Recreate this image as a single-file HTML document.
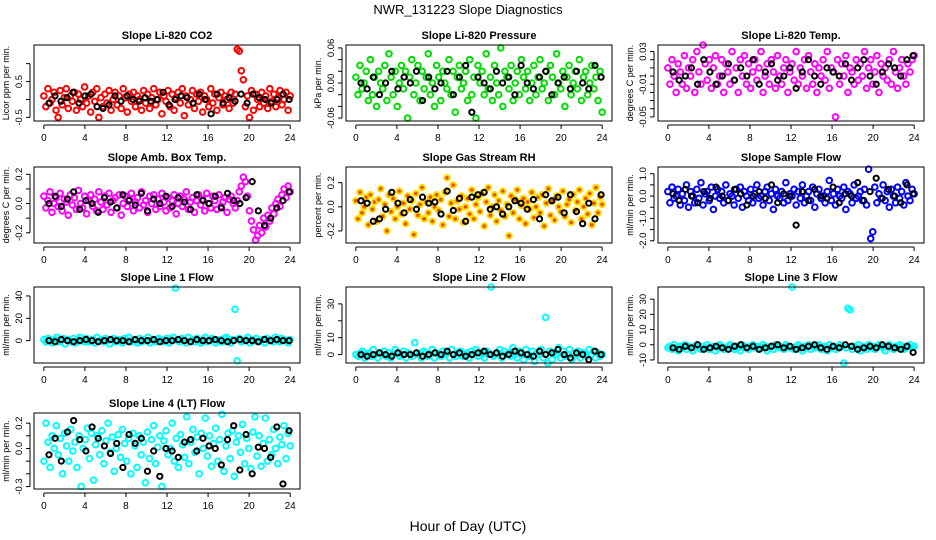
<!DOCTYPE html>
<html><head><meta charset="utf-8"><style>
body{margin:0;background:#fff}
svg{display:block;font-family:"Liberation Sans",sans-serif}
</style></head><body>
<svg id="chart" width="936" height="540" xmlns="http://www.w3.org/2000/svg">
<rect width="936" height="540" fill="#fff"/>
<text x="468" y="14" font-size="13" text-anchor="middle">NWR_131223  Slope Diagnostics</text>
<text x="468" y="531" font-size="14" text-anchor="middle">Hour of Day (UTC)</text>
</svg>
<script>
const xTicks = [0,4,8,12,16,20,24];
const titles = ["Slope Li-820 CO2","Slope Li-820 Pressure","Slope Li-820 Temp.","Slope Amb. Box Temp.","Slope Gas Stream RH","Slope Sample Flow","Slope Line 1 Flow","Slope Line 2 Flow","Slope Line 3 Flow","Slope Line 4 (LT) Flow"];
const yLabels = ["Licor ppm per min.","kPa per min.","degrees C per min.","degrees C per min.","percent per min.","ml/min per min.","ml/min per min.","ml/min per min.","ml/min per min.","ml/min per min."];
const yRanges = [[-0.6,1.52],[-0.065,0.065],[-0.055,0.038],[-0.27,0.25],[-0.3,0.33],[-2.1,1.3],[-20,48],[-5,40],[-12,38],[-0.32,0.28]];
const yTicks = [[-0.5,0,0.5,1.0],[-0.06,-0.04,-0.02,0,0.02,0.04,0.06],[-0.05,-0.04,-0.03,-0.02,-0.01,0,0.01,0.02,0.03],[-0.2,-0.1,0,0.1,0.2],[-0.2,0,0.2],[-2,-1.5,-1,-0.5,0,0.5,1],[0,20,40],[0,10,20,30],[-10,0,10,20,30],[-0.3,-0.2,-0.1,0,0.1,0.2]];
const yTickLabels = [["-0.5","","0.5",""],["-0.06","","","0.00","","","0.06"],["-0.05","","","","-0.01","","","","0.03"],["-0.2","","0.0","","0.2"],["-0.2","0.0","0.2"],["-2.0","","-1.0","","0.0","","1.0"],["0","20","40"],["0","10","","30"],["-10","0","10","20","30"]];
yTickLabels.push(["-0.3","","","0.0","","0.2"]);
const colors = ["#ff0000","#00dd00","#ff00ff","#ff00ff","#ffdd00","#0000ff","#00ffff","#00ffff","#00ffff","#00ffff"];

const s0 = [0.1,-0.2,0.3,-0.1,0.0,0.2,-0.3,-0.5,0.25,-0.15,0.05,0.3,-0.25,0.1,-0.05,0.2,-0.3,0.15,0.0,-0.2,0.35,-0.1,0.1,-0.35,0.2,-0.05,0.3,-0.5,0.05,-0.2,0.15,-0.1,0.25,-0.3,0.0,0.2,-0.15,0.1,-0.25,0.3,0.05,-0.35,0.15,-0.05,0.2,-0.2,0.1,0.0,-0.3,0.25,-0.1,0.15,-0.25,0.05,0.3,-0.15,0.0,0.2,-0.4,0.1,-0.05,0.25,-0.2,0.15,-0.3,0.05,0.2,-0.1,0.3,-0.45,0.1,-0.15,0.0,0.25,-0.25,0.15,-0.05,0.2,-0.35,0.1,0.0,-0.2,0.3,-0.1,0.15,-0.3,0.05,0.2,-0.15,0.1,0.0,-0.25,0.2,-0.1,0.15,1.4,1.35,0.8,0.55,-0.2,0.1,-0.5,0.25,-0.3,0.15,0.0,-0.2,0.2,-0.1,0.1,-0.25,0.3,-0.05,0.15,-0.2,0.05,0.25,-0.15,0.0,0.2,-0.3,0.1];
const s1 = [0.01,-0.02,0.03,-0.01,0.0,0.02,-0.03,0.04,-0.02,0.01,-0.04,0.02,0.0,-0.01,0.03,-0.03,0.05,0.01,-0.02,0.02,-0.04,0.0,0.03,-0.01,0.02,-0.06,0.01,0.04,-0.02,0.0,0.03,-0.03,0.02,-0.01,0.01,0.05,-0.02,0.0,-0.04,0.03,0.01,-0.03,0.02,0.0,-0.01,0.04,-0.02,0.02,-0.05,0.01,0.03,-0.01,0.0,0.02,-0.03,0.04,-0.02,0.01,-0.06,0.03,0.0,0.02,-0.02,0.05,-0.01,0.01,-0.03,0.03,0.0,-0.02,0.06,-0.04,0.02,0.01,-0.01,0.03,-0.03,0.0,0.02,-0.02,0.04,0.01,-0.01,0.02,-0.03,0.0,0.03,-0.02,0.01,0.04,-0.01,0.0,0.02,-0.03,0.03,0.01,-0.02,0.05,0.0,-0.01,0.02,-0.04,0.01,0.03,-0.02,0.0,0.02,-0.01,0.04,-0.03,0.01,0.02,-0.02,0.0,0.03,-0.01,0.01,-0.03,0.02,-0.05];
const s2 = [0.01,-0.01,0.02,0.0,-0.02,0.015,0.005,-0.01,0.025,-0.015,0.01,0.0,0.02,-0.02,0.03,0.005,-0.01,0.038,0.015,-0.005,0.02,-0.015,0.01,0.025,-0.01,0.0,0.02,-0.02,0.015,0.005,-0.01,0.03,-0.005,0.01,-0.02,0.02,0.0,0.025,-0.01,0.015,-0.015,0.005,0.02,-0.005,0.01,0.03,-0.02,0.0,0.015,-0.01,0.02,0.005,-0.015,0.025,0.0,-0.01,0.01,0.02,-0.02,0.005,0.015,-0.005,0.03,-0.01,0.01,0.0,0.02,-0.015,0.025,0.005,-0.01,0.015,-0.02,0.01,0.0,0.02,-0.005,0.03,-0.015,0.01,0.005,-0.05,0.02,-0.01,0.015,0.0,0.025,-0.02,0.01,0.005,-0.01,0.02,-0.005,0.015,0.0,0.03,-0.015,0.01,0.02,-0.01,0.005,0.025,-0.02,0.015,0.0,0.01,-0.005,0.02,-0.01,0.03,0.005,-0.015,0.01,0.02,0.0,-0.01,0.015,0.005,0.02,0.025];
const s3 = [0.05,-0.03,0.02,0.08,-0.06,0.0,0.04,-0.02,0.07,-0.05,0.03,0.01,-0.08,0.06,-0.01,0.04,-0.04,0.09,0.0,-0.03,0.05,-0.07,0.02,0.06,-0.02,0.03,-0.05,0.08,0.01,-0.04,0.05,-0.01,0.07,-0.06,0.02,0.04,-0.03,0.06,-0.08,0.0,0.05,-0.02,0.03,0.07,-0.05,0.01,0.04,-0.03,0.08,-0.01,0.02,-0.06,0.05,0.0,0.06,-0.04,0.03,-0.02,0.07,0.01,-0.05,0.04,-0.03,0.02,0.06,-0.07,0.0,0.05,-0.02,0.03,0.08,-0.04,0.01,0.04,-0.06,0.02,0.06,-0.01,0.03,-0.05,0.07,0.0,-0.03,0.05,0.02,-0.04,0.06,-0.02,0.01,0.04,-0.06,0.03,0.05,0.0,-0.03,0.02,0.08,0.12,0.18,0.15,0.05,-0.05,-0.12,-0.18,-0.25,-0.22,-0.15,-0.2,-0.1,-0.16,-0.08,-0.12,-0.03,-0.07,0.0,0.03,-0.02,0.06,0.1,0.04,0.12,0.08];
const s4 = [0.05,-0.1,0.12,-0.05,0.0,0.08,-0.15,0.1,-0.02,0.04,-0.12,0.06,0.15,-0.08,0.02,-0.2,0.1,-0.04,0.07,-0.1,0.0,0.13,-0.06,0.03,-0.14,0.09,-0.02,0.05,-0.23,0.11,-0.07,0.02,0.16,-0.1,0.04,-0.05,0.08,-0.12,0.0,0.1,-0.03,0.06,-0.15,0.12,0.24,-0.08,0.03,0.18,-0.1,0.05,-0.02,0.09,-0.13,0.0,0.07,-0.06,0.14,-0.1,0.02,0.08,-0.04,0.11,-0.16,0.04,0.16,-0.07,0.0,0.1,-0.12,0.05,-0.03,0.13,-0.08,0.02,-0.24,0.09,-0.05,0.06,0.14,-0.1,0.01,0.07,-0.14,0.04,-0.02,0.12,-0.09,0.0,0.08,-0.05,0.1,-0.16,0.03,0.15,-0.07,0.05,-0.11,0.09,0.0,-0.04,0.13,-0.08,0.02,0.06,-0.13,0.1,-0.03,0.04,0.14,-0.1,0.0,0.07,-0.06,0.11,-0.15,0.03,0.16,-0.05,0.08,0.02];
const s5 = [0.2,-0.3,0.4,-0.1,0.0,0.3,-0.4,0.1,-0.2,0.5,-0.5,0.2,0.0,-0.3,0.3,-0.1,0.6,-0.4,0.1,0.2,-0.2,0.4,-0.6,0.0,0.3,-0.1,0.2,-0.3,0.5,-0.2,0.1,0.0,-0.4,0.3,-0.1,0.4,-0.5,0.2,0.0,-0.2,0.3,-0.3,0.1,0.5,-0.1,0.0,-0.4,0.2,0.4,-0.2,0.1,-0.6,0.3,0.0,-0.1,0.2,-0.3,0.6,-0.2,0.1,0.0,0.3,-0.4,0.2,-0.1,0.5,-0.3,0.0,0.2,-0.2,0.4,-0.5,0.1,0.3,-0.1,0.0,-0.3,0.2,0.7,-0.2,0.1,-0.4,0.3,0.0,-0.1,0.4,-0.6,0.2,0.1,-0.3,0.5,-0.1,0.0,0.2,-0.2,0.3,-0.4,1.2,-1.9,-1.6,0.4,-0.3,0.1,-0.1,0.5,-0.2,0.2,-0.5,0.3,0.0,-0.3,0.4,-0.1,0.2,-0.4,0.6,0.0,-0.2,0.3,0.1];
const s6 = [1,-1,2,0,-2,1,3,-1,0,2,-3,1,0,-1,2,-2,1,3,0,-1,2,-1,0,1,-2,3,0,1,-1,2,0,-3,1,2,-1,0,1,-2,2,0,3,-1,1,0,-2,2,-1,1,0,3,-2,1,0,-1,2,1,-1,0,2,-2,1,3,47,0,-1,2,1,-2,3,0,1,-1,2,0,-2,1,3,-1,0,2,1,-2,0,1,-1,2,3,0,-2,1,28,-18,2,-1,0,1,3,-2,1,0,2,-1,0,1,-2,2,0,1,-1,3,0,-1,2,1,0,-2,1];
const s7 = [0,-1,1,2,-2,0,1,-1,3,0,-2,1,0,2,-1,1,-2,0,3,1,-1,0,2,-2,1,0,-1,7,1,0,-2,2,1,-1,0,3,-2,1,0,-1,2,0,1,-2,3,0,-1,1,2,-1,0,1,-2,2,0,3,-1,1,0,-2,2,1,40,-1,0,1,3,-2,2,0,1,-1,4,0,-2,2,1,-3,3,0,-1,2,-4,1,0,3,-2,22,-5,2,-3,1,0,4,-2,2,-1,0,3,-3,1,0,2,-2,1,0,-1,3,0,2,-2,1,-1,0];
const s8 = [-2,-1,-3,0,-2,-4,-1,-2,0,-3,-1,-2,-4,-1,0,-2,-3,-1,-2,0,-3,-2,-1,-4,-2,0,-1,-3,-2,-1,0,-2,-3,-1,-2,-4,0,-1,-2,-3,-1,0,-2,-1,-3,-2,0,-1,-4,-2,-1,-3,0,-2,-1,-2,-3,0,-1,-2,38,-3,-1,0,-2,-4,-1,-2,0,-3,-1,-2,-1,0,-3,-2,-1,-4,0,-2,-1,-3,-2,0,-1,-12,-2,24,23,-3,-1,-2,0,-4,-1,-2,-3,0,-2,-1,-3,-2,0,-1,-2,-4,-1,0,-2,-3,-1,-2,0,-1,-3,-2,-1,0,-2,-1];
const s9 = [-0.1,0.2,0.05,-0.15,0.1,0.0,0.18,-0.05,0.08,-0.2,0.12,0.02,-0.1,0.15,-0.02,0.05,-0.15,0.1,-0.3,0.0,0.07,0.16,-0.08,0.12,-0.25,0.03,0.1,-0.05,0.14,-0.12,0.06,0.2,-0.03,0.09,-0.18,0.0,0.11,-0.07,0.15,0.04,-0.1,0.08,-0.2,0.12,0.02,-0.15,0.1,-0.05,0.05,-0.27,0.13,-0.08,0.07,0.18,-0.12,0.01,0.1,-0.3,0.06,0.14,-0.05,0.0,0.2,-0.1,0.08,-0.15,0.11,0.03,-0.07,0.25,-0.12,0.05,0.15,-0.03,0.09,-0.2,0.12,0.0,0.24,-0.06,0.1,-0.14,0.04,0.16,-0.1,0.07,0.27,-0.18,0.02,0.12,-0.08,0.14,-0.22,0.05,0.1,-0.03,0.19,-0.12,0.08,0.0,-0.16,0.13,0.25,-0.06,0.1,-0.14,0.04,0.24,-0.1,0.07,-0.05,0.15,0.0,-0.12,0.09,0.03,0.18,-0.08,0.12,0.02];
const series = [s0,s1,s2,s3,s4,s5,s6,s7,s8,s9];

const b0 = [-0.1,0.1,-0.05,0.05,0.2,-0.1,0.1,0.15,-0.2,-0.25,-0.15,0.1,-0.05,0.1,0.0,-0.05,0.05,-0.05,0.0,0.2,-0.15,0.0,0.1,0.05,-0.1,0.15,0.0,-0.4,0.15,-0.1,0.05,-0.05,0.15,-0.1,0.15,0.05,0.0,-0.1,0.0,0.15,0.0];
const b1 = [0.0,-0.01,0.01,-0.02,0.0,0.02,-0.01,0.01,0.0,0.02,-0.03,0.01,-0.01,0.0,0.02,-0.02,0.01,0.03,-0.05,0.01,0.0,-0.01,0.02,0.0,0.01,-0.02,0.03,0.0,-0.01,0.01,0.02,-0.02,0.0,0.01,-0.01,0.02,0.0,-0.01,0.03,0.01];
const b2 = [0.005,-0.005,0.0,0.01,-0.01,0.02,0.005,-0.01,0.0,0.015,-0.005,0.01,0.0,0.02,-0.01,0.005,0.015,-0.005,0.0,0.01,-0.015,0.005,0.02,0.0,-0.01,0.01,0.005,0.0,0.015,-0.005,0.01,0.02,0.0,-0.01,0.005,0.015,0.01,0.0,0.02,0.025];
const b3 = [0.0,0.05,-0.02,0.03,0.08,-0.04,0.02,0.0,-0.06,0.04,0.01,-0.03,0.06,0.02,-0.01,0.07,-0.05,0.03,0.0,0.05,-0.02,0.04,0.01,-0.04,0.06,0.02,0.0,0.05,-0.03,0.07,0.02,0.0,0.04,0.15,-0.05,-0.15,-0.1,-0.03,0.02,0.08];
const b4 = [0.05,0.03,-0.12,-0.1,-0.02,0.12,0.03,-0.05,0.06,-0.02,0.08,0.03,0.04,-0.06,0.13,-0.03,0.07,-0.12,0.08,0.1,0.12,-0.02,0.0,-0.06,0.0,0.05,0.03,-0.02,0.06,-0.1,0.1,0.05,0.08,-0.05,0.1,-0.04,-0.14,0.03,-0.1,0.1];
const b5 = [0.1,-0.2,0.3,0.0,-0.3,0.2,-0.1,0.4,0.0,-0.2,0.3,0.1,-0.4,0.0,0.2,-0.1,0.5,-0.3,0.1,0.0,-1.3,0.2,-0.2,0.3,0.0,-0.1,0.4,-0.3,0.1,0.0,0.6,-0.2,0.2,0.8,-0.1,0.3,0.0,-0.3,0.5,0.1];
const b6 = [0,-1,1,0,-1,0,1,0,-1,0,1,0,0,-1,1,0,0,1,-1,0,0,1,0,-1,1,0,0,1,0,-1,0,1,0,0,-1,1,0,1,0,0];
const b7 = [0,-1,0,1,0,-1,1,0,0,1,-1,0,1,0,2,0,1,-1,0,1,2,0,1,-1,0,2,1,0,-1,2,0,1,3,0,-2,1,0,-3,2,0];
const b8 = [-2,-3,-1,-2,0,-3,-2,-1,-2,-3,-1,0,-2,-1,-3,-2,-1,0,-2,-1,-3,-2,-1,0,-2,-3,-1,-2,0,-1,-3,-2,-1,-2,0,-1,-2,-3,-1,-5];
const b9 = [-0.05,0.08,-0.1,0.13,0.22,0.07,-0.02,0.17,0.08,0.02,-0.04,0.04,-0.15,0.11,0.04,0.08,-0.18,-0.02,-0.22,0.0,-0.02,-0.07,0.05,0.07,-0.02,0.08,0.02,0.0,-0.13,0.07,0.18,-0.17,0.11,-0.2,0.01,0.0,-0.07,0.17,-0.28,0.14];
const blacks = [b0,b1,b2,b3,b4,b5,b6,b7,b8,b9];

const colLeft = [34,346,658];
const rowTop = [45,167,287,413];
const boxW = 266, boxH = 76;
const svg = document.getElementById('chart');
const NS = 'http://www.w3.org/2000/svg';
function mk(tag, attrs, parent){const e=document.createElementNS(NS,tag);for(const k in attrs)e.setAttribute(k,attrs[k]);(parent||svg).appendChild(e);return e;}

for(let p=0;p<10;p++){
  const L = colLeft[p%3], T = rowTop[Math.floor(p/3)];
  const g = mk('g',{});
  
  
  const xS = h => L + (h + 0.96) / 25.92 * boxW;
  const [y0,y1] = yRanges[p];
  const yS = v => T + boxH - (v - y0) / (y1 - y0) * boxH;
  const t = mk('text',{x:L+boxW/2,y:T-6,'font-size':11,'font-weight':'bold','text-anchor':'middle'},g);
  t.textContent = titles[p];
  
  
  const xa = mk('g',{},g);
  
  
  mk('line',{x1:xS(0),x2:xS(24),y1:T+boxH+4,y2:T+boxH+4,stroke:'#000'},xa);
  xTicks.forEach(v=>{
    mk('line',{x1:xS(v),x2:xS(v),y1:T+boxH+4,y2:T+boxH+8,stroke:'#000'},xa);
    const tl = mk('text',{x:xS(v),y:T+boxH+20,'font-size':10,'text-anchor':'middle'},xa);
    tl.textContent = v;
    
    
  });
  const ya = mk('g',{},g);
  
  
  const tk = yTicks[p];
  mk('line',{x1:L-4,x2:L-4,y1:yS(tk[0]),y2:yS(tk[tk.length-1]),stroke:'#000'},ya);
  tk.forEach((v,i)=>{
    const y = yS(v);
    mk('line',{x1:L-8,x2:L-4,y1:y,y2:y,stroke:'#000'},ya);
    const lab = yTickLabels[p][i];
    if(lab){
      const tl = mk('text',{x:L-12,y:y,'font-size':9.5,'text-anchor':'middle',transform:`rotate(-90 ${L-12} ${y})`},ya);
      tl.textContent = lab;
      
      
    }
  });
  const yl = mk('text',{x:L-25,y:T+boxH/2,'font-size':9,'text-anchor':'middle',transform:`rotate(-90 ${L-25} ${T+boxH/2})`},g);
  yl.textContent = yLabels[p];
  
  
  const s = series[p];
  const isRH = p===4;
  s.forEach((v,i)=>{
    const c = mk('circle',{cx:xS(i*24/(s.length-1)),cy:yS(v),r:2.8,fill:isRH?'#e85000':'none',stroke:colors[p],'stroke-width':2},g);
    
    
  });
  const b = blacks[p];
  b.forEach((v,i)=>{
    const c = mk('circle',{cx:xS(0.5+i*23.4/(b.length-1)),cy:yS(v),r:2.6,fill:'none',stroke:'#000','stroke-width':2},g);
    
    
  });
  const box = mk('rect',{x:L,y:T,width:boxW,height:boxH,fill:'none',stroke:'#000'},g);
  
  
}
</script>
</body></html>
